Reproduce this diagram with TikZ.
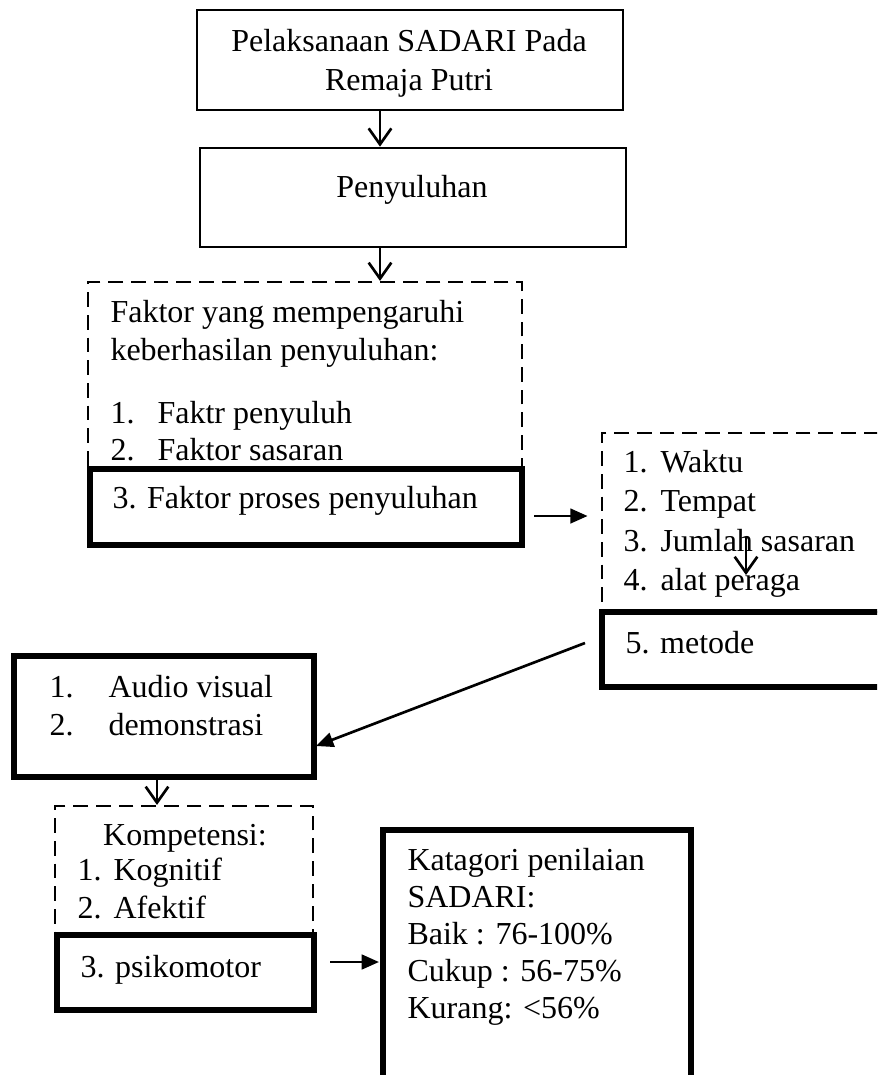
\documentclass[tikz,border=0pt]{standalone}
\usepackage{fontspec}
\setmainfont{Liberation Serif}
\usetikzlibrary{arrows.meta,fit}

\begin{document}
\begin{tikzpicture}[x=0.375pt,y=-0.375pt,font=\fontsize{12}{14}\selectfont]
\tikzstyle box=[draw, line width=1pt, inner sep=0pt]
\tikzstyle thickbox=[draw, line width=2pt, inner sep=0pt]
\tikzstyle dashbox=[draw, line width=0.8pt, dash pattern=on 5.5pt off 3pt, inner sep=0pt]
\tikzstyle txt=[anchor=base west, inner sep=0pt]
\tikzstyle mid=[anchor=base, inner sep=0pt]
\tikzstyle arrowopen=[line width=1pt, -{Straight Barb[length=6pt,width=8.5pt]}]
\tikzstyle arrowfull=[line width=1pt, -{Triangle[length=6.5pt,width=5.5pt]}]

\useasboundingbox (0,0) rectangle (877,1075);
\clip (0,0) rectangle (877,1075);

% boxes
\node[box, fit={(197,10) (623,110)}] (plak) {};
\node[box, fit={(200,148) (626,247)}] (peny) {};
\node[dashbox, fit={(88,282) (522,469)}] (faktor) {};
\node[thickbox, fit={(90,469) (522,545)}] (proses) {};
\node[dashbox, fit={(602,433) (900,612)}] (unsur) {};
\node[thickbox, fit={(602,612) (900,687)}] (metode) {};
\node[thickbox, fit={(14,656) (314,777)}] (media) {};
\node[dashbox, fit={(55,806) (313,935)}] (komp) {};
\node[thickbox, fit={(57,935) (314,1010)}] (psiko) {};
\node[thickbox, fit={(383,830) (691,1090)}] (nilai) {};

% texts
\node[mid] (plak1) at (409,51) {Pelaksanaan SADARI Pada};
\node[mid] (plak2) at (409,90) {Remaja Putri};
\node[mid] (peny1) at (412,197) {Penyuluhan};
\node[txt] (fak1) at (110,322) {Faktor yang mempengaruhi};
\node[txt] (fak2) at (110,360) {keberhasilan penyuluhan:};
\foreach \i/\y/\t in {1/423/Faktr penyuluh, 2/460/Faktor sasaran} {
  \node[txt] (fakn\i) at (110,\y) {\i.};
  \node[txt] (fakl\i) at (157,\y) {\t};
}
\node[txt] (pros1) at (112,508) {3. Faktor proses penyuluhan};
\foreach \i/\y/\t in {1/472/Waktu, 2/511/Tempat, 3/551/Jumlah sasaran, 4/590/alat peraga} {
  \node[txt] (unn\i) at (623,\y) {\i.};
  \node[txt] (unl\i) at (660,\y) {\t};
}
\node[txt] (met1) at (625,653) {5. metode};
\foreach \i/\y/\t in {1/697/Audio visual, 2/735/demonstrasi} {
  \node[txt] (medn\i) at (49,\y) {\i.};
  \node[txt] (medl\i) at (108,\y) {\t};
}
\node[mid] (komp0) at (185,845) {Kompetensi:};
\foreach \i/\y/\t in {1/880/Kognitif, 2/918/Afektif} {
  \node[txt] (kompn\i) at (77,\y) {\i.};
  \node[txt] (kompl\i) at (113,\y) {\t};
}
\node[txt] (psi1) at (80,977) {3. psikomotor};
\foreach \i/\y/\t in {1/870/Katagori penilaian, 2/907/SADARI:, 3/944/Baik : 76-100\%, 4/981/Cukup : 56-75\%, 5/1018/Kurang: <56\%} {
  \node[txt] (nil\i) at (407,\y) {\t};
}

% arrows
\coordinate (s1) at (380,0);
\coordinate (s6) at (157,0);
\coordinate (p3) at (0,516);
\coordinate (q1) at (746,537);
\coordinate (q2) at (746,575);
\coordinate (p5a) at (585,643);
\coordinate (p5b) at (316,746);
\coordinate (p7) at (0,962);
\draw[arrowopen] (plak.south -| s1) -- (peny.north -| s1);
\draw[arrowopen] (peny.south -| s1) -- (faktor.north -| s1);
\draw[arrowfull, shorten <=3.5pt, shorten >=5pt] (proses.east |- p3) -- (unsur.west |- p3);
\draw[arrowopen] (q1) -- (q2);
\draw[arrowfull] (p5a) -- (p5b);
\draw[arrowopen] (media.south -| s6) -- (komp.north -| s6);
\draw[arrowfull, shorten <=5pt, shorten >=0.5pt] (psiko.east |- p7) -- (nilai.west |- p7);
\end{tikzpicture}
\end{document}
